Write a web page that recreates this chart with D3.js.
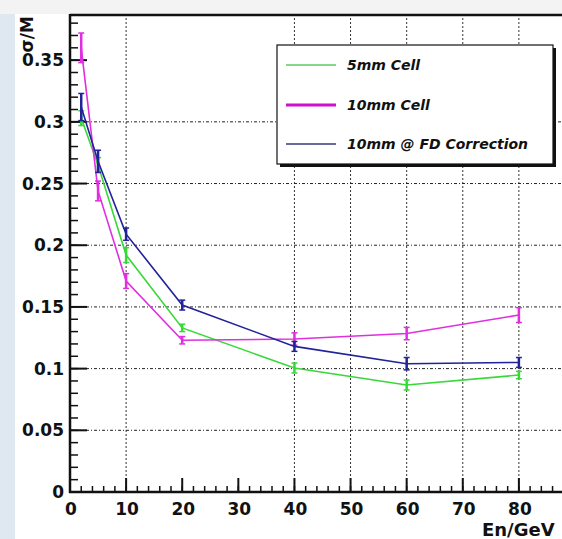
<!DOCTYPE html>
<html>
<head>
<meta charset="utf-8">
<script src="https://cdn.jsdelivr.net/npm/d3@7"></script>
<style>
  html, body { margin: 0; padding: 0; background: #ffffff; }
  svg { display: block; }
  text { font-family: "DejaVu Sans", Arial, sans-serif; font-weight: bold; fill: #111; }
</style>
</head>
<body>
<svg id="chart" width="562" height="539"></svg>
<script>
// Beam energies (GeV)
const energies = [2, 5, 10, 20, 40, 60, 80];

// Relative resolution sigma/M per series, with symmetric errors
const cell5 = [0.303, 0.265, 0.192, 0.133, 0.1005, 0.0867, 0.0948];
const cell5Err = [0.006, 0.006, 0.006, 0.003, 0.004, 0.004, 0.003];

const cell10 = [0.360, 0.244, 0.171, 0.123, 0.124, 0.1284, 0.1434];
const cell10Err = [0.012, 0.008, 0.006, 0.003, 0.005, 0.005, 0.006];

const fdCorr = [0.312, 0.268, 0.209, 0.1515, 0.118, 0.104, 0.105];
const fdCorrErr = [0.011, 0.009, 0.005, 0.004, 0.004, 0.005, 0.004];

const seriesNames = ["5mm Cell", "10mm Cell", "10mm @ FD Correction"];
const seriesColors = ["#38d838", "#e02ee0", "#22229a"];
const legendColors = ["#5cc85c", "#cc10cc", "#3a3a7a"];

// Axis ticks
const xTickLabels = [0, 10, 20, 30, 40, 50, 60, 70, 80];
const xGrid = [10, 40, 50, 60, 70, 80, 90];
const yTickLabels = [0, 0.05, 0.1, 0.15, 0.2, 0.25, 0.3, 0.35];
const yGrid = [0.05, 0.1, 0.15, 0.2, 0.25, 0.3];

const svg = d3.select("#chart");
const W = 562, H = 539;

// page background bands
svg.append("rect").attr("x", 0).attr("y", 0).attr("width", W).attr("height", 14).attr("fill", "#f3f3f3");
svg.append("rect").attr("x", 0).attr("y", 14).attr("width", 15).attr("height", H - 14).attr("fill", "#dfe7f0");

const x = d3.scaleLinear().domain([0, 90]).range([70, 575]);
const y = d3.scaleLinear().domain([0, 0.3866]).range([492, 15]);

const plot = svg.append("g");

// grid
plot.selectAll("line.gx").data(xGrid).join("line")
  .attr("x1", d => x(d)).attr("x2", d => x(d))
  .attr("y1", y(0)).attr("y2", y(0.3866))
  .attr("stroke", "#333").attr("stroke-width", 1).attr("stroke-dasharray", "2,2");
plot.selectAll("line.gy").data(yGrid).join("line")
  .attr("x1", x(0)).attr("x2", W)
  .attr("y1", d => y(d)).attr("y2", d => y(d))
  .attr("stroke", "#222").attr("stroke-width", 1).attr("stroke-dasharray", "3,2,1,2");

// y axis ticks: major every 0.05, minor every 0.01
const yMinor = d3.range(0, 0.386, 0.01);
plot.selectAll("line.ymin").data(yMinor).join("line")
  .attr("x1", x(0)).attr("x2", x(0) + 8)
  .attr("y1", d => y(d)).attr("y2", d => y(d))
  .attr("stroke", "#111").attr("stroke-width", 1.5);
plot.selectAll("line.ymaj").data(yTickLabels).join("line")
  .attr("x1", x(0)).attr("x2", x(0) + 17)
  .attr("y1", d => y(d)).attr("y2", d => y(d))
  .attr("stroke", "#111").attr("stroke-width", 2);

// x axis ticks: major every 10, minor every 2
const xMinor = d3.range(0, 92, 2);
plot.selectAll("line.xmin").data(xMinor).join("line")
  .attr("x1", d => x(d)).attr("x2", d => x(d))
  .attr("y1", y(0)).attr("y2", y(0) - 6)
  .attr("stroke", "#111").attr("stroke-width", 1.5);
plot.selectAll("line.xmaj").data(xTickLabels.concat([90])).join("line")
  .attr("x1", d => x(d)).attr("x2", d => x(d))
  .attr("y1", y(0)).attr("y2", y(0) - 14)
  .attr("stroke", "#111").attr("stroke-width", 2);

// frame
plot.append("line").attr("x1", x(0)).attr("x2", W).attr("y1", y(0.3866)).attr("y2", y(0.3866))
  .attr("stroke", "#111").attr("stroke-width", 2.5);
plot.append("line").attr("x1", x(0)).attr("x2", x(0)).attr("y1", y(0.3866) - 1).attr("y2", y(0) + 1)
  .attr("stroke", "#111").attr("stroke-width", 2.5);
plot.append("line").attr("x1", x(0) - 1).attr("x2", W).attr("y1", y(0)).attr("y2", y(0))
  .attr("stroke", "#111").attr("stroke-width", 2.5);

// tick labels
svg.selectAll("text.yl").data(yTickLabels).join("text")
  .attr("x", 64).attr("y", d => y(d) + 6)
  .attr("text-anchor", "end").attr("font-size", 17)
  .text(d => d === 0 ? "0" : String(d));
svg.selectAll("text.xl").data(xTickLabels).join("text")
  .attr("x", d => x(d) + 1).attr("y", 515)
  .attr("text-anchor", "middle").attr("font-size", 17)
  .text(d => String(d));

// axis titles
svg.append("text").attr("x", 482).attr("y", 536).attr("font-size", 18).text("En/GeV");
svg.append("text")
  .attr("transform", "translate(33,16) rotate(-90)")
  .attr("text-anchor", "end").attr("font-size", 17)
  .text("σ/M");

// series
const series = [
  { vals: cell5, errs: cell5Err },
  { vals: cell10, errs: cell10Err },
  { vals: fdCorr, errs: fdCorrErr }
];

const line = d3.line().x(d => x(d[0])).y(d => y(d[1]));

series.forEach((s, i) => {
  const pts = energies.map((e, k) => [e, s.vals[k], s.errs[k]]);
  const g = plot.append("g");
  g.append("path").datum(pts).attr("d", line)
    .attr("fill", "none").attr("stroke", seriesColors[i]).attr("stroke-width", 1.6);
  // error bars with end caps
  g.selectAll("line.eb").data(pts).join("line")
    .attr("x1", d => x(d[0])).attr("x2", d => x(d[0]))
    .attr("y1", d => y(d[1] - d[2])).attr("y2", d => y(d[1] + d[2]))
    .attr("stroke", seriesColors[i]).attr("stroke-width", 2.5);
  g.selectAll("line.ct").data(pts).join("line")
    .attr("x1", d => x(d[0]) - 3).attr("x2", d => x(d[0]) + 3)
    .attr("y1", d => y(d[1] + d[2])).attr("y2", d => y(d[1] + d[2]))
    .attr("stroke", seriesColors[i]).attr("stroke-width", 1.5);
  g.selectAll("line.cb").data(pts).join("line")
    .attr("x1", d => x(d[0]) - 3).attr("x2", d => x(d[0]) + 3)
    .attr("y1", d => y(d[1] - d[2])).attr("y2", d => y(d[1] - d[2]))
    .attr("stroke", seriesColors[i]).attr("stroke-width", 1.5);
});

// legend box with drop shadow
const lg = svg.append("g");
lg.append("rect").attr("x", 280).attr("y", 48).attr("width", 276).attr("height", 119).attr("fill", "#111");
lg.append("rect").attr("x", 277).attr("y", 45).attr("width", 276).attr("height", 119)
  .attr("fill", "#ffffff").attr("stroke", "#111").attr("stroke-width", 1.2);
const rowsY = [65, 105, 144];
seriesNames.forEach((name, i) => {
  lg.append("line").attr("x1", 286).attr("x2", 336).attr("y1", rowsY[i]).attr("y2", rowsY[i])
    .attr("stroke", legendColors[i]).attr("stroke-width", i === 1 ? 3 : 1.6);
  lg.append("text").attr("x", 347).attr("y", rowsY[i] + 5)
    .attr("font-size", 14).attr("font-style", "italic").text(name);
});
</script>
</body>
</html>
